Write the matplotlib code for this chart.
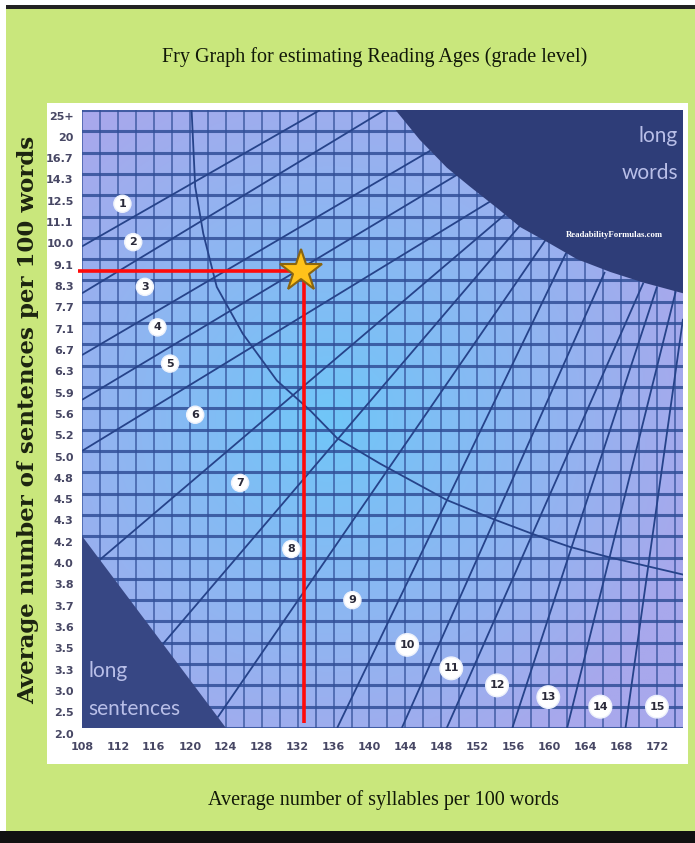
import numpy as np
import matplotlib
matplotlib.use('Agg')
import matplotlib.pyplot as plt
from matplotlib.patches import Rectangle, Polygon
from matplotlib.transforms import ScaledTranslation

# ---------------- data ----------------
syllable_ticks = list(range(108, 173, 4))
sentence_labels = ['2.0', '2.5', '3.0', '3.3', '3.5', '3.6', '3.7', '3.8', '4.0', '4.2',
                   '4.3', '4.5', '4.8', '5.0', '5.2', '5.6', '5.9', '6.3', '6.7', '7.1',
                   '7.7', '8.3', '9.1', '10.0', '11.1', '12.5', '14.3', '16.7', '20', '25+']

# grade boundary lines (x = syllables, y = sentence-row index)
line_start_x = [108, 108, 108, 108, 108, 110.0, 117.0, 123.1, 136.4, 143.6, 148.6, 155.9, 162.0, 168.5]
line_start_y = [22.6, 20.4, 17.5, 15.4, 13.0, 7.9, 3.94, 0.5, 0, 0, 0, 0, 0, 0]
line_end_x = [134.5, 141.7, 146.8, 149.9, 153.4, 155.1, 156.8, 159.6, 161.9, 166.2, 170.5, 172.0, 174.1, 174.9]
line_end_y = [29, 29, 27.1, 26.0, 24.7, 24.1, 23.6, 22.9, 22.3, 21.4, 20.9, 20.7, 20.5, 19.2]

# thin curved divider
divider_x = [120.2, 120.6, 121.5, 123.0, 125.9, 129.7, 133.4, 136.4, 141.2, 148.6, 153.8, 158.2, 162.3, 166.8, 174.9]
divider_y = [29, 25.4, 23.2, 20.7, 18.5, 16.3, 14.9, 13.6, 12.4, 10.7, 9.8, 9.1, 8.5, 8.0, 7.2]

# "long words" region boundary
long_words_x = [142.9, 145.6, 148.6, 151.2, 154.2, 156.8, 159.8, 163.1, 166.8, 170.5, 174.9]
long_words_y = [29, 27.6, 26.3, 25.4, 24.4, 23.5, 22.8, 22.0, 21.4, 20.9, 20.4]

# "long sentences" triangle
long_sent_x = [108, 108, 124]
long_sent_y = [9, 0, 0]

# grade level labels
grades = list(range(1, 16))
grade_x = [112.5, 113.7, 115.0, 116.4, 117.8, 120.6, 125.6, 131.3, 138.1, 144.2, 149.1, 154.2, 159.9, 165.7, 172.0]
grade_y = [24.6, 22.8, 20.7, 18.8, 17.1, 14.7, 11.5, 8.4, 6.0, 3.9, 2.8, 2.0, 1.45, 1.0, 1.0]

# example point
star_x = 132.4
star_y = 21.45

XMIN, XMAX, YMIN, YMAX = 108, 174.9, 0, 29

# ---------------- figure ----------------
W, H = 695, 843
fig = plt.figure(figsize=(W / 100, H / 100), dpi=100)
fig.patch.set_facecolor('#c9e77c')


def frame_rect(x0, y0, x1, y1, color):
    fig.patches.append(Rectangle((x0 / W, 1 - y1 / H), (x1 - x0) / W, (y1 - y0) / H,
                                 transform=fig.transFigure, facecolor=color,
                                 edgecolor='none', zorder=-10))


frame_rect(0, 0, W, 5, 'white')
frame_rect(0, 5, W, 9, '#222222')
frame_rect(0, 0, 6, H, 'white')
frame_rect(0, 831, W, H, '#111111')
frame_rect(47, 103, 688, 764, 'white')

ax = fig.add_axes([82 / W, 1 - 728 / H, (683 - 82) / W, (728 - 110) / H])
ax.set_zorder(5)
ax.patch.set_alpha(0)
ax.set_xlim(XMIN, XMAX)
ax.set_ylim(YMIN, YMAX)

# radial gradient background
gx = np.linspace(XMIN, XMAX, 300)
gy = np.linspace(YMIN, YMAX, 300)
GX, GY = np.meshgrid(gx, gy)
r = np.sqrt(((GX - 135.6) * 8.98) ** 2 + ((GY - 14.5) * 21.31) ** 2) / 380.0
t = np.clip(r, 0, 1) ** 1.0
c_center = np.array([112, 198, 248]) / 255.0
c_edge = np.array([168, 168, 236]) / 255.0
img = c_center[None, None, :] * (1 - t[..., None]) + c_edge[None, None, :] * t[..., None]
ax.imshow(img, extent=[XMIN, XMAX, YMIN, YMAX], origin='lower', aspect='auto', zorder=0)

grid_col = '#314f98'
for xv in np.arange(108, 175, 2):
    ax.axvline(xv, color=grid_col, lw=1.1, alpha=0.85, zorder=1)
for yv in range(0, 30):
    ax.axhline(yv, color=grid_col, lw=2.2, alpha=0.85, zorder=1)

line_col = '#26438a'
for x0, y0, x1, y1 in zip(line_start_x, line_start_y, line_end_x, line_end_y):
    ax.plot([x0, x1], [y0, y1], color=line_col, lw=1.3, zorder=2, solid_capstyle='butt')

ax.plot(divider_x, divider_y, color=line_col, lw=1.3, zorder=2)

dark = '#2e3d78'
lw_poly = list(zip(long_words_x, long_words_y)) + [(XMAX, YMAX)]
ax.add_patch(Polygon(lw_poly, closed=True, facecolor=dark, edgecolor='none', zorder=3))
ax.add_patch(Polygon(list(zip(long_sent_x, long_sent_y)), closed=True,
                     facecolor='#374784', edgecolor='none', zorder=3))

txt_col = '#b9bfe8'
ax.text(0.992, 0.958, 'long', transform=ax.transAxes, ha='right', va='center',
        fontsize=15, color=txt_col, family='Lato', zorder=4)
ax.text(0.992, 0.898, 'words', transform=ax.transAxes, ha='right', va='center',
        fontsize=15, color=txt_col, family='Lato', zorder=4)
ax.text(0.885, 0.797, 'ReadabilityFormulas.com', transform=ax.transAxes, ha='center',
        va='center', fontsize=6.3, color='white', family='Liberation Serif',
        fontweight='bold', zorder=4)
ax.text(0.01, 0.093, 'long', transform=ax.transAxes, ha='left', va='center',
        fontsize=15, color=txt_col, family='Lato', zorder=4)
ax.text(0.01, 0.030, 'sentences', transform=ax.transAxes, ha='left', va='center',
        fontsize=15, color=txt_col, family='Lato', zorder=4)

for g, gxv, gyv in zip(grades, grade_x, grade_y):
    ax.text(gxv, gyv, str(g), ha='center', va='center', fontsize=8, color='#2a2a3a',
            fontweight='bold', zorder=5,
            bbox=dict(boxstyle='circle,pad=0.32', facecolor='white', edgecolor='#eef2fb',
                      linewidth=1.0))

# example red guide lines and star
ax.plot([XMIN - 0.5, star_x], [star_y, star_y], color='#ff0a0a', lw=2.6, zorder=6,
        clip_on=False, solid_capstyle='butt')
ax.plot([star_x + 0.35, star_x + 0.35], [star_y, 0.25], color='#ff0a0a', lw=2.6, zorder=6,
        solid_capstyle='butt')
ax.plot([star_x], [star_y], marker='*', markersize=32, markerfacecolor='#ffc21a',
        markeredgecolor='#8a6510', markeredgewidth=1.5, zorder=7)

# axes styling
for s in ax.spines.values():
    s.set_visible(False)
ax.set_xticks(syllable_ticks)
ax.set_xticklabels([str(v) for v in syllable_ticks])
ax.set_yticks(range(len(sentence_labels)))
ax.set_yticklabels(sentence_labels)
ax.tick_params(axis='both', length=0, labelsize=8, labelcolor='#474764')
ax.tick_params(axis='x', pad=10)
ax.tick_params(axis='y', pad=6)
off = ScaledTranslation(0, -4 / 72, fig.dpi_scale_trans)
for lab in ax.get_yticklabels():
    lab.set_transform(lab.get_transform() + off)
    lab.set_fontweight('bold')
for lab in ax.get_xticklabels():
    lab.set_fontweight('bold')

fig.text(375 / W, 1 - 57 / H, 'Fry Graph for estimating Reading Ages (grade level)',
         ha='center', va='center', fontsize=14.5, family='Liberation Serif', color='#111808')
fig.text(383 / W, 1 - 800 / H, 'Average number of syllables per 100 words',
         ha='center', va='center', fontsize=14.5, family='Liberation Serif', color='#111808')
fig.text(28 / W, 1 - 420 / H, 'Average number of sentences per 100 words',
         ha='center', va='center', rotation=90, fontsize=16.5, family='DejaVu Serif',
         fontweight='bold', color='#1c2410')

fig.savefig('out.png', dpi=100, facecolor=fig.get_facecolor())
